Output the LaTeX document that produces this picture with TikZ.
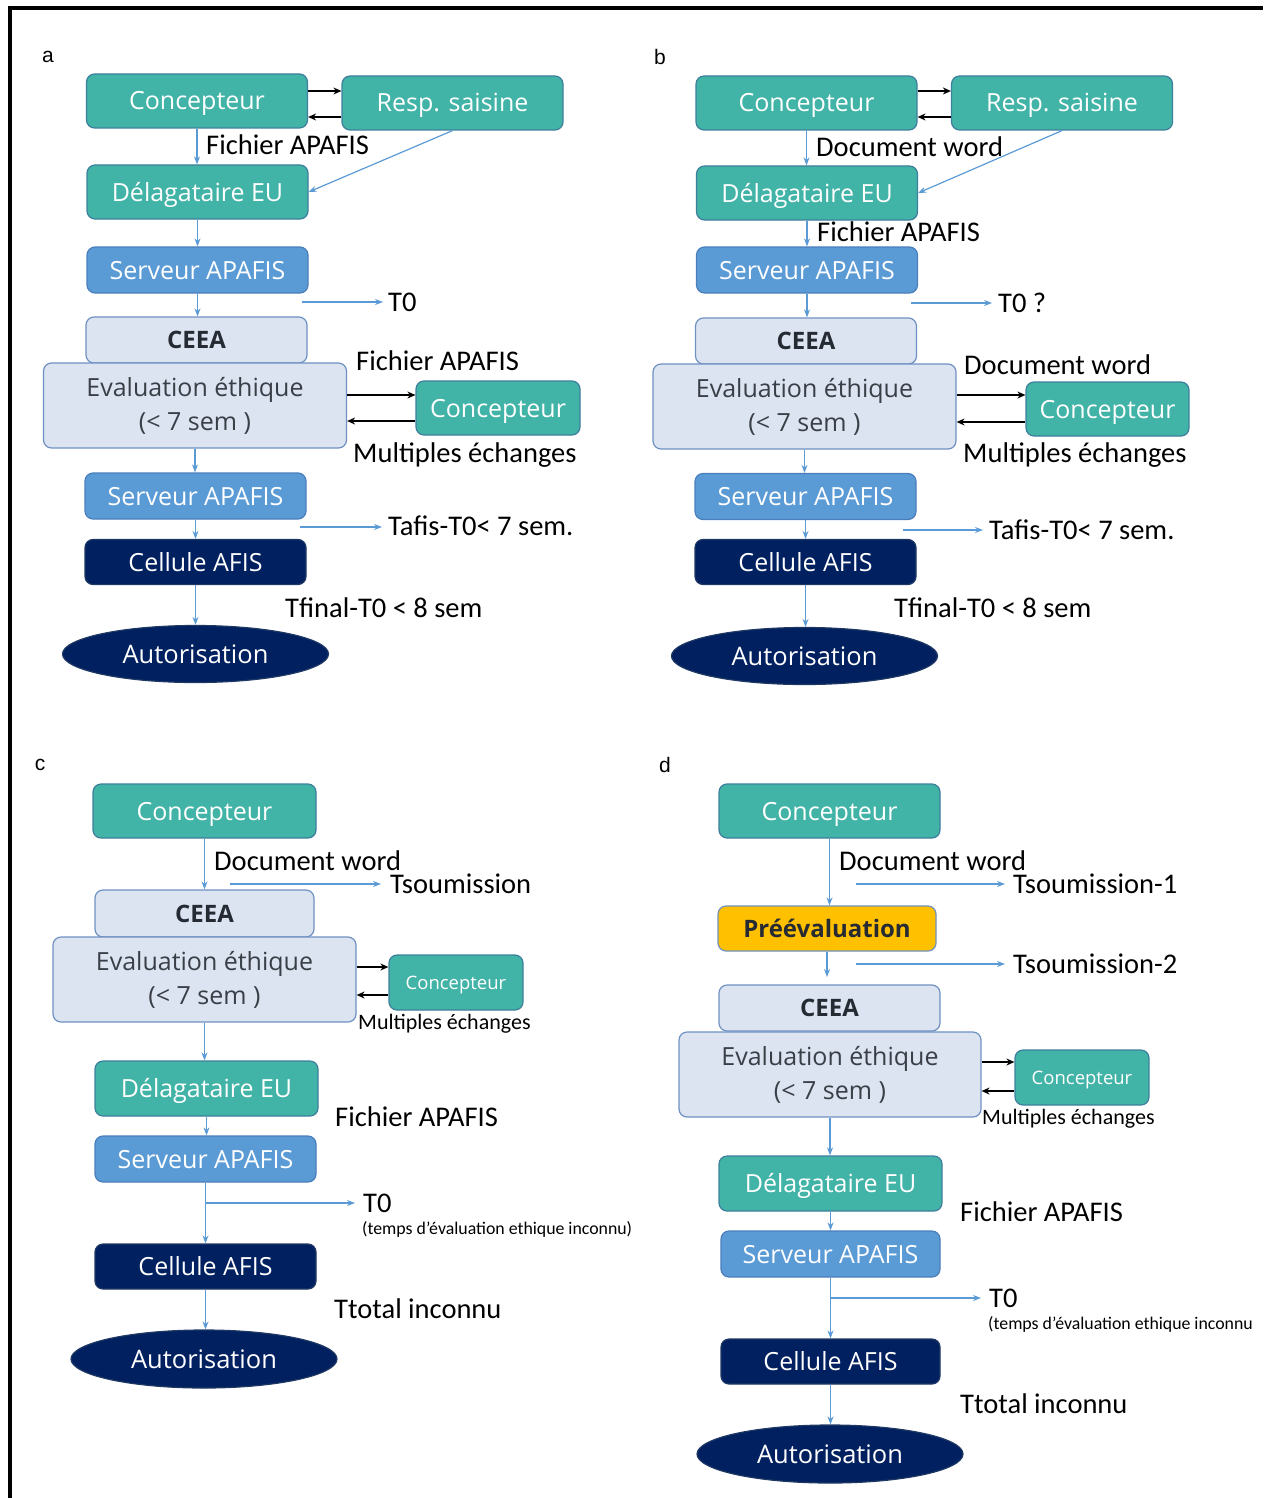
\documentclass[tikz,border=0pt]{standalone}
\usepackage{fontspec}
\usepackage{tikz}
\usetikzlibrary{arrows.meta,shapes.geometric}
\setmainfont{Carlito}
\newfontfamily\boxfont{Open Sans}
\newfontfamily\letterfont{Liberation Sans}

\definecolor{conceptcol}{HTML}{41B3A7}
\definecolor{conceptbord}{HTML}{3D7F9C}
\definecolor{servcol}{HTML}{5B9BD5}
\definecolor{servbord}{HTML}{4A7EBB}
\definecolor{ceeacol}{HTML}{DCE4F2}
\definecolor{ceeabord}{HTML}{6F91C2}
\definecolor{navycol}{HTML}{002060}
\definecolor{navybord}{HTML}{1F3864}
\definecolor{prevcol}{HTML}{FFC000}
\definecolor{flowcol}{HTML}{5B9BD5}
\definecolor{darktext}{HTML}{262B33}
\definecolor{graytext}{HTML}{3A3F47}

\tikzset{
  base/.style={rounded corners=8pt, line width=1.2pt, minimum height=54pt,
    minimum width=221pt, inner sep=1pt, text=white,
    text height=18pt, text depth=0pt,
    font=\boxfont\fontsize{25}{29}\selectfont},
  acteur/.style={base, fill=conceptcol, draw=conceptbord},
  petit/.style={acteur, minimum width=134pt, minimum height=55pt,
    text height=13.3pt, font=\boxfont\fontsize{18.5}{22}\selectfont},
  serveur/.style={base, fill=servcol, draw=servbord, minimum height=46pt},
  ceea/.style={base, fill=ceeacol, draw=ceeabord, minimum height=46pt,
    text height=17.3pt, text=darktext,
    font=\boxfont\bfseries\fontsize{24}{28}\selectfont},
  evalbox/.style={base, fill=ceeacol, draw=ceeabord, minimum width=303pt,
    minimum height=85pt, text=graytext, align=center,
    text height={}, text depth={},
    font=\boxfont\fontsize{25}{34}\selectfont},
  preeval/.style={ceea, fill=prevcol, draw=ceeabord},
  cellule/.style={base, fill=navycol, draw=navybord, minimum height=45pt},
  autor/.style={ellipse, fill=navycol, draw=navybord, line width=1.2pt,
    minimum width=266pt, minimum height=57pt, inner sep=1pt, text=white,
    text height=18.4pt, text depth=0pt,
    font=\boxfont\fontsize{25.5}{29}\selectfont},
  flow/.style={draw=flowcol, line width=1.2pt, -{Stealth[length=8pt,width=6pt]}},
  echange/.style={black, line width=1.5pt, -{Stealth[length=8pt,width=7pt]}},
  legende/.style={anchor=west, inner sep=0pt, text=black,
    font=\fontsize{28.5}{32}\selectfont},
  note/.style={legende, font=\fontsize{22}{26}\selectfont},
  mini/.style={legende, font=\fontsize{17.8}{21}\selectfont},
  lettre/.style={inner sep=0pt, font=\letterfont\fontsize{21}{24}\selectfont}
}

\begin{document}
\begin{tikzpicture}[x=1pt, y=-1pt]
\useasboundingbox (0,0) rectangle (1263,1498);
% cadre
\draw[line width=4pt] (10,1498) -- (10,8) -- (1263,8);

% ---------- a ----------
\node[lettre] (labA) at (48,57) {a};
\node[acteur] (aConc) at (197,101) {Concepteur};
\node[acteur] (aResp) at (452.5,103) {Resp. saisine};
\node[acteur] (aDel) at (197.5,192) {Délagataire EU};
\node[serveur] (aServ) at (197.5,270) {Serveur APAFIS};
\node[ceea] (aCeea) at (196.5,340) {CEEA};
\node[evalbox] (aEval) at (195,405.5) {Evaluation éthique\\(< 7 sem )};
\node[acteur, minimum width=164pt] (aConc2) at (498,408) {Concepteur};
\node[serveur] (aServ2) at (195.5,496) {Serveur APAFIS};
\node[cellule] (aCell) at (195.5,562) {Cellule AFIS};
\node[autor] (aAuto) at (195.5,654) {Autorisation};

\node[legende] (aFich) at (206,145) {Fichier APAFIS};
\node[legende] (aT0) at (388,302) {T0};
\node[legende] (aFich2) at (356,361) {Fichier APAFIS};
\node[legende] (aMult) at (353,455) {Multiples échanges};
\node[legende] (aTafis) at (388,526) {Tafis-T0< 7 sem.};
\node[legende] (aTfin) at (285,608) {Tfinal-T0 < 8 sem};
\coordinate (aT0s) at (302,302);
\coordinate (aTafiss) at (300,527);

\draw[echange] (aConc.east |- 0,91) -- (aResp.west |- 0,91);
\draw[echange] (aResp.west |- 0,117) -- (aConc.east |- 0,117);
\draw[flow] (aConc) -- (aConc |- aDel.north);
\draw[flow] (aResp.south) -- (aDel.east);
\draw[flow] (aDel) -- (aDel |- aServ.north);
\draw[flow] (aServ) -- (aServ |- aCeea.north);
\draw[flow] (aT0s) -- ([xshift=-5pt]aT0.west);
\draw[echange] (aEval.east |- 0,395) -- (aConc2.west |- 0,395);
\draw[echange] (aConc2.west |- 0,421) -- (aEval.east |- 0,421);
\draw[flow] (aEval) -- (aEval |- aServ2.north);
\draw[flow] (aServ2) -- (aServ2 |- aCell.north);
\draw[flow] (aTafiss) -- ([xshift=-6pt]aTafis.west |- aTafiss);
\draw[flow] (aCell) -- (aCell |- aAuto.north);

% ---------- b ----------
\node[lettre] (labB) at (660,57) {b};
\node[acteur] (bConc) at (806.5,103) {Concepteur};
\node[acteur] (bResp) at (1062,103) {Resp. saisine};
\node[acteur] (bDel) at (807,193) {Délagataire EU};
\node[serveur] (bServ) at (807,270) {Serveur APAFIS};
\node[ceea] (bCeea) at (806,341) {CEEA};
\node[evalbox] (bEval) at (804.5,406.5) {Evaluation éthique\\(< 7 sem )};
\node[acteur, minimum width=163pt] (bConc2) at (1107.5,409) {Concepteur};
\node[serveur] (bServ2) at (805.5,496.5) {Serveur APAFIS};
\node[cellule] (bCell) at (805.5,562) {Cellule AFIS};
\node[autor] (bAuto) at (804.5,656) {Autorisation};

\node[legende] (bDoc) at (816,147) {Document word};
\node[legende] (bFich) at (817,232) {Fichier APAFIS};
\node[legende] (bT0) at (998,303) {T0 ?};
\node[legende] (bDoc2) at (964,365) {Document word};
\node[legende] (bMult) at (963,455) {Multiples échanges};
\node[legende] (bTafis) at (989,530) {Tafis-T0< 7 sem.};
\node[legende] (bTfin) at (894,608) {Tfinal-T0 < 8 sem};
\coordinate (bT0s) at (911,303);
\coordinate (bTafiss) at (903,530);

\draw[echange] (bConc.east |- 0,91) -- (bResp.west |- 0,91);
\draw[echange] (bResp.west |- 0,117) -- (bConc.east |- 0,117);
\draw[flow] (bConc) -- (bConc |- bDel.north);
\draw[flow] (bResp.south) -- (bDel.east);
\draw[flow] (bDel) -- (bDel |- bServ.north);
\draw[flow] (bServ) -- (bServ |- bCeea.north);
\draw[flow] (bT0s) -- ([xshift=-6pt]bT0.west);
\draw[echange] (bEval.east |- 0,395) -- (bConc2.west |- 0,395);
\draw[echange] (bConc2.west |- 0,422) -- (bEval.east |- 0,422);
\draw[flow] (bEval) -- (bEval |- bServ2.north);
\draw[flow] (bServ2) -- (bServ2 |- bCell.north);
\draw[flow] (bTafiss) -- ([xshift=-6pt]bTafis.west |- bTafiss);
\draw[flow] (bCell) -- (bCell |- bAuto.north);

% ---------- c ----------
\node[lettre] (labC) at (40,765) {c};
\node[acteur, minimum width=223pt] (cConc) at (204.5,811) {Concepteur};
\node[ceea, minimum width=219pt, minimum height=47pt] (cCeea) at (204.5,913.5) {CEEA};
\node[evalbox] (cEval) at (204.5,979.5) {Evaluation éthique\\(< 7 sem )};
\node[petit] (cConc2) at (456,982.5) {Concepteur};
\node[acteur, minimum width=223pt, minimum height=55pt] (cDel) at (206.5,1088.5) {Délagataire EU};
\node[serveur] (cServ) at (205.5,1159) {Serveur APAFIS};
\node[cellule] (cCell) at (205.5,1266.5) {Cellule AFIS};
\node[autor, minimum height=58pt] (cAuto) at (204,1359) {Autorisation};

\node[legende] (cDoc) at (214,861) {Document word};
\node[legende] (cTsou) at (390,884) {Tsoumission};
\node[note] (cMult) at (358,1024) {Multiples échanges};
\node[legende] (cFich) at (335,1117) {Fichier APAFIS};
\node[legende] (cT0) at (363,1203) {T0};
\node[mini] (cTemps) at (362,1229) {(temps d'évaluation ethique inconnu)};
\node[legende] (cTtot) at (334,1309) {Ttotal inconnu};
\coordinate (cTsous) at (230,884);

\draw[flow] (cConc) -- (cConc |- cCeea.north);
\draw[flow] (cTsous) -- ([xshift=-9pt]cTsou.west);
\draw[echange] (cEval.east |- 0,967) -- (cConc2.west |- 0,967);
\draw[echange] (cConc2.west |- 0,995) -- (cEval.east |- 0,995);
\draw[flow] (cEval) -- (cEval |- cDel.north);
\draw[flow] (cDel) -- (cDel |- cServ.north);
\draw[flow] (cServ) -- (cServ |- cCell.north);
\draw[flow] (cServ |- cT0) -- ([xshift=-8pt]cT0.west);
\draw[flow] (cCell) -- (cCell |- cAuto.north);

% ---------- d ----------
\node[lettre] (labD) at (665,765) {d};
\node[acteur] (dConc) at (829.5,811) {Concepteur};
\node[preeval, minimum width=218pt, minimum height=45pt] (dPre) at (827,928.5) {Préévaluation};
\node[ceea, minimum width=221pt] (dCeea) at (829.5,1008) {CEEA};
\node[evalbox, minimum width=302pt] (dEval) at (830,1074.5) {Evaluation éthique\\(< 7 sem )};
\node[petit] (dConc2) at (1082,1077.5) {Concepteur};
\node[acteur, minimum width=223pt, minimum height=55pt] (dDel) at (830.5,1183.5) {Délagataire EU};
\node[serveur, minimum width=219pt] (dServ) at (830.5,1254) {Serveur APAFIS};
\node[cellule, minimum width=219pt] (dCell) at (830.5,1361.5) {Cellule AFIS};
\node[autor, minimum height=58pt] (dAuto) at (830,1454) {Autorisation};

\node[legende] (dDoc) at (839,861) {Document word};
\node[legende] (dTsou1) at (1013,884) {Tsoumission-1};
\node[legende] (dTsou2) at (1013,964) {Tsoumission-2};
\node[note] (dMult) at (982,1119) {Multiples échanges};
\node[legende] (dFich) at (960,1212) {Fichier APAFIS};
\node[legende] (dT0) at (989,1298) {T0};
\node[mini] (dTemps) at (988,1324) {(temps d'évaluation ethique inconnu};
\node[legende] (dTtot) at (960,1404) {Ttotal inconnu};
\coordinate (dTsou1s) at (856,884);
\coordinate (dTsou2s) at (856,964);

\draw[flow] (dConc) -- (dConc |- dPre.north);
\draw[flow] (dTsou1s) -- ([xshift=-8pt]dTsou1.west);
\draw[flow] (dPre) -- (dPre |- 0,977);
\draw[flow] (dTsou2s) -- ([xshift=-8pt]dTsou2.west);
\draw[echange] (dEval.east |- 0,1062) -- (dConc2.west |- 0,1062);
\draw[echange] (dConc2.west |- 0,1091) -- (dEval.east |- 0,1091);
\draw[flow] (dEval) -- (dEval |- dDel.north);
\draw[flow] (dDel) -- (dDel |- dServ.north);
\draw[flow] (dServ) -- (dServ |- dCell.north);
\draw[flow] (dServ |- dT0) -- ([xshift=-8pt]dT0.west);
\draw[flow] (dCell) -- (dCell |- dAuto.north);
\end{tikzpicture}
\end{document}
